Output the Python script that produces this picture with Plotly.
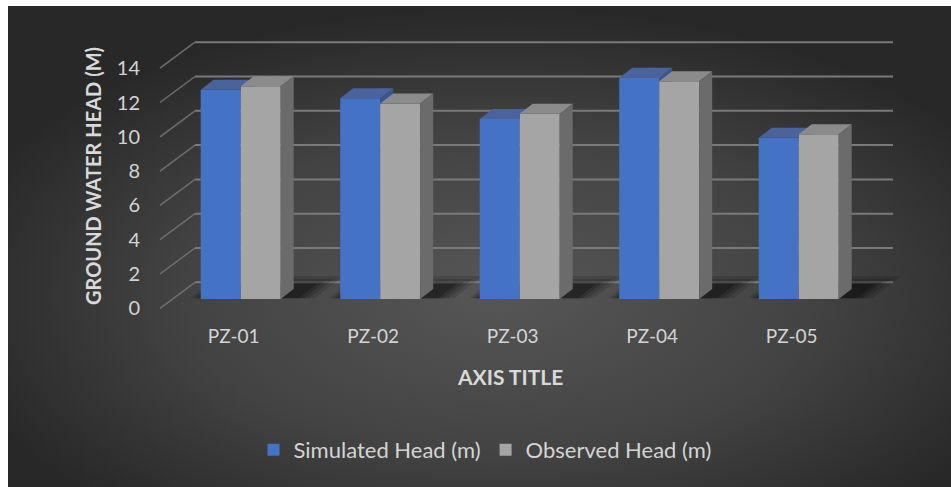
import base64
import plotly.graph_objects as go

# ---------------- data ----------------
CATEGORIES = ["PZ-01", "PZ-02", "PZ-03", "PZ-04", "PZ-05"]
SIMULATED = [12.2, 11.7, 10.5, 12.9, 9.4]
OBSERVED = [12.4, 11.4, 10.8, 12.7, 9.6]
Y_TICKS = [0, 2, 4, 6, 8, 10, 12, 14]
SERIES_NAMES = ["Simulated Head (m)", "Observed Head (m)"]

# ---------------- layout geometry (pixels -> data units) ----------------
W, H = 951, 487
PX_CAT = 139.5          # pixels per category
PX_UNIT = 17.15         # pixels per value unit
X0_PX = 240.7           # pixel x of category 0 (boundary between the two bars)
BASE_PY = 299           # pixel y of bar bottoms
PLOT_LEFT_PX = 141
PLOT_BOTTOM_PX = 323
FRONT_LABEL_PY = 308.3  # pixel y of value 0 at the front edge (tick labels)

BAR_W = 40 / PX_CAT
DEPTH_DX = 13 / PX_CAT
DEPTH_DY = 10 / PX_UNIT
BACK_DY = (BASE_PY - 282.3) / PX_UNIT
FRONT_DY = -(FRONT_LABEL_PY - BASE_PY) / PX_UNIT
X_LEFT_BACK = (195 - X0_PX) / PX_CAT
X_LEFT_FRONT = (160 - X0_PX) / PX_CAT
X_RIGHT_BACK = (893 - X0_PX) / PX_CAT
LABEL_SHIFT = -7 / PX_CAT

x_range = [(PLOT_LEFT_PX - X0_PX) / PX_CAT, (W - X0_PX) / PX_CAT]
y_range = [(BASE_PY - PLOT_BOTTOM_PX) / PX_UNIT, BASE_PY / PX_UNIT]
y2_range = [(FRONT_LABEL_PY - PLOT_BOTTOM_PX) / PX_UNIT, FRONT_LABEL_PY / PX_UNIT]

BLUE = "#4472C4"
GRAY = "#A5A5A5"
BLUE_TOP = "#4a639c"
BLUE_SIDE = "#3b5590"
GRAY_TOP = "#8b8b8b"
GRAY_SIDE = "#6b6b6b"
GRID = "#7a7a7a"
TEXT = "#d4d4d4"
FONT = "Lato"

idx = list(range(len(CATEGORIES)))


def clip_half(poly, a, b, c):
    """keep part of polygon with a*x + b*y >= c"""
    out = []
    n = len(poly)
    for k in range(n):
        p, q = poly[k], poly[(k + 1) % n]
        fp = a * p[0] + b * p[1] - c
        fq = a * q[0] + b * q[1] - c
        if fp >= 0:
            out.append(p)
        if (fp >= 0) != (fq >= 0):
            t = fp / (fp - fq)
            out.append((p[0] + t * (q[0] - p[0]), p[1] + t * (q[1] - p[1])))
    return out


def poly_trace(polys, color):
    xs, ys = [], []
    for pl in polys:
        if len(pl) < 3:
            continue
        xs += [p[0] for p in pl] + [pl[0][0], None]
        ys += [p[1] for p in pl] + [pl[0][1], None]
    return go.Scatter(x=xs, y=ys, mode="lines", fill="toself", fillcolor=color,
                      line=dict(width=0, color=color), hoverinfo="skip",
                      showlegend=False)


fig = go.Figure()

# front faces as real bars
fig.add_trace(go.Bar(x=idx, y=SIMULATED, width=BAR_W, offset=-BAR_W,
                     name=SERIES_NAMES[0], marker=dict(color=BLUE, line=dict(width=0))))
fig.add_trace(go.Bar(x=idx, y=OBSERVED, width=BAR_W, offset=0,
                     name=SERIES_NAMES[1], marker=dict(color=GRAY, line=dict(width=0))))

# 3-D faces derived from the data
blue_side, blue_top, gray_top, gray_side = [], [], [], []
for i, hb, hg in zip(idx, SIMULATED, OBSERVED):
    top = [(i - BAR_W, hb), (i, hb), (i + DEPTH_DX, hb + DEPTH_DY), (i - BAR_W + DEPTH_DX, hb + DEPTH_DY)]
    blue_top.append(clip_half(top, -1, 0, -i))
    blue_top.append(clip_half(clip_half(top, 1, 0, i), 0, 1, hg))
    side = [(i, 0), (i + DEPTH_DX, DEPTH_DY), (i + DEPTH_DX, hb + DEPTH_DY), (i, hb)]
    blue_side.append(clip_half(side, 0, 1, hg))
    gray_top.append([(i, hg), (i + BAR_W, hg), (i + BAR_W + DEPTH_DX, hg + DEPTH_DY), (i + DEPTH_DX, hg + DEPTH_DY)])
    gray_side.append([(i + BAR_W, 0), (i + BAR_W + DEPTH_DX, DEPTH_DY), (i + BAR_W + DEPTH_DX, hg + DEPTH_DY), (i + BAR_W, hg)])

fig.add_trace(poly_trace(blue_side, BLUE_SIDE))
fig.add_trace(poly_trace(blue_top, BLUE_TOP))
fig.add_trace(poly_trace(gray_top, GRAY_TOP))
fig.add_trace(poly_trace(gray_side, GRAY_SIDE))

# invisible trace so that the front-edge value axis (y2) is drawn
fig.add_trace(go.Scatter(x=[0], y=[0], yaxis="y2", mode="markers",
                         marker=dict(opacity=0), hoverinfo="skip", showlegend=False))

# ---------------- background ----------------
svg = ('<svg xmlns="http://www.w3.org/2000/svg" width="943" height="481" viewBox="0 0 943 481">'
       '<defs><radialGradient id="g" cx="0.52" cy="0.6" r="0.6">'
       '<stop offset="0" stop-color="#565656"/><stop offset="0.55" stop-color="#434343"/>'
       '<stop offset="1" stop-color="#282828"/></radialGradient></defs>'
       '<rect x="0" y="0" width="943" height="481" fill="url(#g)"/></svg>')
src = "data:image/svg+xml;base64," + base64.b64encode(svg.encode()).decode()
images = [dict(source=src, xref="paper", yref="paper", x=8 / W, y=1 - 6 / H,
               sizex=(W - 8) / W, sizey=(H - 6) / H, xanchor="left", yanchor="top",
               sizing="stretch", layer="below")]

# ---------------- wall grid + shadows ----------------
shapes = []
for v in Y_TICKS:
    shapes.append(dict(type="line", xref="x", yref="y", x0=X_LEFT_BACK, y0=v + BACK_DY,
                       x1=X_RIGHT_BACK, y1=v + BACK_DY, line=dict(color=GRID, width=2), layer="below"))
    shapes.append(dict(type="line", xref="x", yref="y", x0=X_LEFT_FRONT, y0=v + FRONT_DY,
                       x1=X_LEFT_BACK, y1=v + BACK_DY, line=dict(color="#6e6e6e", width=1.5), layer="below"))

for i in idx:
    for g_px, op in [(18, 0.12), (12, 0.15), (7, 0.18), (2, 0.24)]:
        gx = g_px / PX_CAT
        gy = g_px * 0.5 / PX_UNIT
        x_l = i - BAR_W - gx * 0.6
        x_r = i + BAR_W + 16 / PX_CAT + gx
        y_f = 0.05
        y_b = DEPTH_DY + 4 / PX_UNIT + gy
        dxs = DEPTH_DX * (y_b - y_f) / DEPTH_DY
        path = (f"M {x_l},{y_f} L {x_r},{y_f} L {x_r + dxs},{y_b} L {x_l + dxs},{y_b} Z")
        shapes.append(dict(type="path", xref="x", yref="y", path=path,
                           fillcolor=f"rgba(0,0,0,{op})", line=dict(width=0), layer="below"))

annotations = [
    dict(text="<b>GROUND WATER HEAD (M)</b>", xref="paper", yref="paper",
         x=93 / W, y=1 - 176 / H, textangle=-90, showarrow=False,
         font=dict(family=FONT, size=20, color="#d9d9d9"), xanchor="center", yanchor="middle"),
    dict(text="<b>AXIS TITLE</b>", xref="paper", yref="paper",
         x=509.5 / W, y=1 - 376.5 / H, showarrow=False,
         font=dict(family=FONT, size=21, color="#d9d9d9"), xanchor="center", yanchor="middle"),
]

fig.update_layout(
    width=W, height=H, margin=dict(l=0, r=0, t=0, b=0),
    paper_bgcolor="white", plot_bgcolor="rgba(0,0,0,0)",
    barmode="overlay", font=dict(family=FONT, color=TEXT),
    images=images, shapes=shapes, annotations=annotations,
    xaxis=dict(domain=[PLOT_LEFT_PX / W, 1], range=x_range,
               tickvals=[i + LABEL_SHIFT for i in idx], ticktext=CATEGORIES,
               showgrid=False, zeroline=False, showline=False, ticks="",
               tickfont=dict(family=FONT, size=19, color=TEXT), automargin=False, fixedrange=True),
    yaxis=dict(domain=[1 - PLOT_BOTTOM_PX / H, 1], range=y_range, showticklabels=False,
               showgrid=False, zeroline=False, showline=False, automargin=False, fixedrange=True),
    yaxis2=dict(overlaying="y", anchor="x", side="left", range=y2_range,
                tickvals=Y_TICKS, showgrid=False, zeroline=False, showline=False, ticks="",
                tickfont=dict(family=FONT, size=20, color=TEXT), automargin=False, fixedrange=True),
    legend=dict(orientation="h", x=485 / W, xanchor="center", y=1 - 450 / H, yanchor="middle",
                font=dict(family=FONT, size=22, color=TEXT), bgcolor="rgba(0,0,0,0)",
                itemwidth=30),
    showlegend=True,
)

fig.write_html("out.html")
